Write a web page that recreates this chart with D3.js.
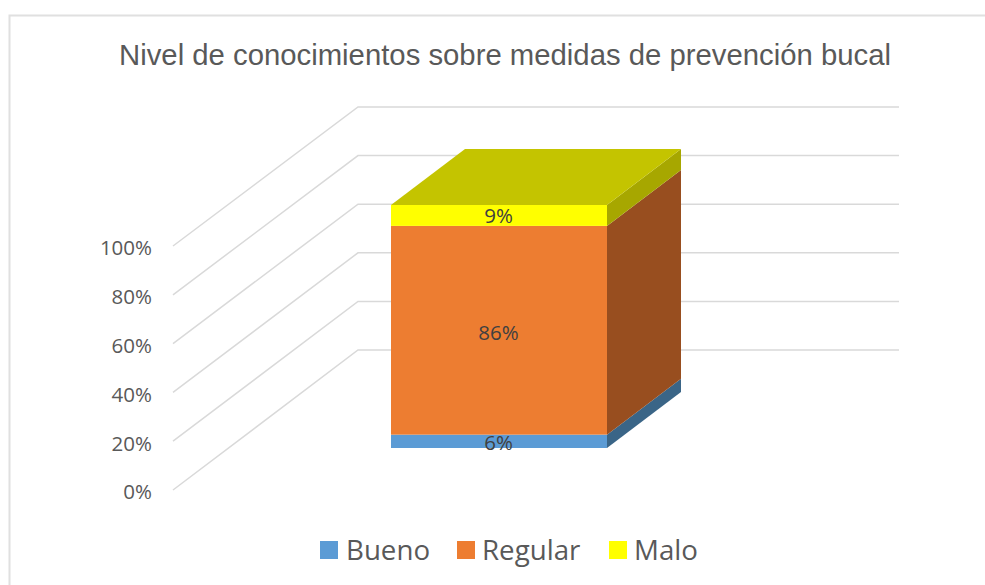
<!DOCTYPE html>
<html>
<head>
<meta charset="utf-8">
<script src="https://cdn.jsdelivr.net/npm/d3@7"></script>
<style>
html,body{margin:0;padding:0;background:#fff;overflow:hidden}
svg{display:block}
</style>
</head>
<body>
<svg id="c" width="985" height="585"></svg>
<script>
const titleText = "Nivel de conocimientos sobre medidas de prevención bucal";
const categories = ["Bueno", "Regular", "Malo"];
const values = [5.5, 85.9, 8.6];
const frontColors = ["#5b9bd5", "#ed7d31", "#ffff00"];
const sideColors = ["#3a6587", "#984e1f", "#a7a700"];
const topColor = "#c4c400";
const tickValues = [0, 20, 40, 60, 80, 100];

const svg = d3.select("#c");
const uiFont = "'Open Sans','Noto Sans',sans-serif";
const textColor = "#595959";
const gridColor = "#d9d9d9";

// chart frame (runs off the right and bottom of the page)
svg.append("rect").attr("x", 9.5).attr("y", 15.5).attr("width", 1000).attr("height", 600)
  .attr("fill", "#fff").attr("stroke", "#e0e0e0").attr("stroke-width", 2);

svg.append("text").attr("x", 505).attr("y", 65).attr("text-anchor", "middle")
  .attr("font-family", "'Liberation Sans',Arial,sans-serif").attr("font-size", 29.3)
  .attr("fill", textColor).text(titleText);

// value scales at three depths of the 3D box
const yAxisFront = d3.scaleLinear().domain([0, 100]).range([490, 246]);
const yWall = d3.scaleLinear().domain([0, 100]).range([350, 107]);
const yBar = d3.scaleLinear().domain([0, 100]).range([448, 205]);
const x = d3.scaleBand().domain(["all"]).range([391, 607]);
const depthX = 74, depthY = -56;
const axisX = 173, wallX = 358, wallRight = 899;

// gridlines: floor diagonal then back wall
const line = d3.line();
svg.append("g").selectAll("path").data(tickValues).join("path")
  .attr("d", t => line([[axisX, yAxisFront(t)], [wallX, yWall(t)], [wallRight, yWall(t)]]))
  .attr("fill", "none").attr("stroke", gridColor).attr("stroke-width", 1.5);

// axis labels
const axis = d3.axisLeft(yAxisFront).tickValues(tickValues).tickSize(0).tickPadding(0)
  .tickFormat(d => d + "%");
const axG = svg.append("g").attr("transform", `translate(152,2)`).call(axis);
axG.select(".domain").remove();
axG.selectAll("text").attr("font-family", uiFont).attr("font-size", 20.5).attr("fill", textColor)
  .attr("dy", "0.34em");

// stacked segments
let acc = 0;
const segs = values.map((v, i) => {
  const s = { name: categories[i], v, i, y0: acc, y1: acc + v };
  acc += v;
  return s;
});
const xL = x("all"), xR = xL + x.bandwidth();
const poly = pts => line(pts) + "Z";
const bars = svg.append("g");
segs.forEach(s => {
  const yB = yBar(s.y0), yT = yBar(s.y1);
  bars.append("path")
    .attr("d", poly([[xR, yB], [xR + depthX, yB + depthY], [xR + depthX, yT + depthY], [xR, yT]]))
    .attr("fill", sideColors[s.i]);
  bars.append("rect").attr("x", xL).attr("y", yT).attr("width", xR - xL).attr("height", yB - yT)
    .attr("fill", frontColors[s.i]);
});
const last = segs[segs.length - 1];
const yTop = yBar(last.y1);
bars.append("path")
  .attr("d", poly([[xL, yTop], [xL + depthX, yTop + depthY], [xR + depthX, yTop + depthY], [xR, yTop]]))
  .attr("fill", topColor);

// data labels
const fmt = d3.format(".0f");
const labelOffset = [1, 2.5, 0.5];
svg.append("g").selectAll("text").data(segs).join("text")
  .attr("x", 498.5)
  .attr("y", d => yBar((d.y0 + d.y1) / 2) + labelOffset[d.i])
  .attr("dy", "0.36em").attr("text-anchor", "middle")
  .attr("font-family", uiFont).attr("font-size", 20.5).attr("fill", "#404040")
  .text(d => fmt(d.v) + "%");

// legend
const legendX = [320, 457, 609];
const legendGap = [26, 25, 25];
const lg = svg.append("g").selectAll("g").data(categories).join("g")
  .attr("transform", (d, i) => `translate(${legendX[i]},541)`);
lg.append("rect").attr("width", 18).attr("height", 18).attr("fill", (d, i) => frontColors[i]);
lg.append("text").attr("x", (d, i) => legendGap[i]).attr("y", 19).attr("font-family", uiFont)
  .attr("font-size", 27.7).attr("fill", textColor).text(d => d);
</script>
</body>
</html>
